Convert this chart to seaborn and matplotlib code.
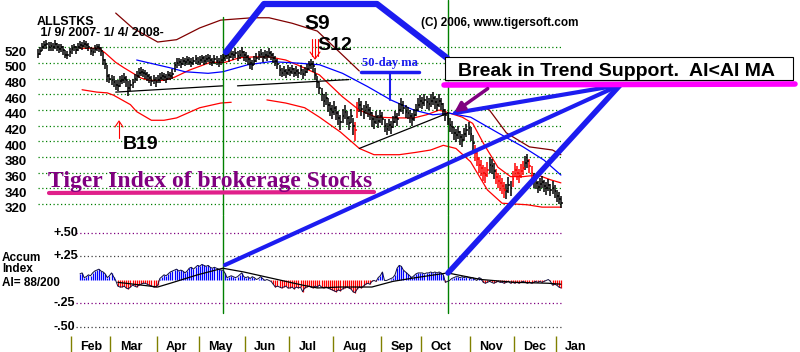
import numpy as np
import matplotlib
matplotlib.use("Agg")
import matplotlib.pyplot as plt
import seaborn as sns
from matplotlib.patches import Rectangle

# daily bars, trading-day index 0 = 1/9/2007 ... 249 = 1/4/2008
closes = [
    512, 516, 520, 523, 524, 521, 522, 520, 524, 521, 518, 520, 517, 511, 510, 514,
    518, 520, 517, 521, 523, 522, 525, 523, 521, 516, 514, 518, 520, 519, 515, 504, 499, 483, 480,
    478, 476, 472, 471, 477, 479, 481, 478, 468, 472, 474, 480, 483, 487, 489, 488, 486, 483, 481, 477, 479, 476,
    479, 481, 484, 482, 480, 485, 483, 486, 497, 500, 502, 499, 503, 501, 504, 502, 500, 503, 505, 502,
    504, 506, 503, 505, 507, 504, 502, 505, 503, 501, 504, 506, 509, 511, 508, 512, 510, 513, 509, 511, 514, 510,
    508, 505, 500, 498, 503, 507, 510, 512, 508, 511, 509, 513, 510, 507, 503, 499, 491, 488, 490, 487, 491,
    489, 492, 488, 490, 487, 491, 486, 489, 493, 497, 499, 496, 485, 476, 468, 460, 452, 455, 446, 442, 438,
    443, 436, 430, 425, 432, 437, 430, 424, 433, 420, 415, 440, 446, 442, 438, 444, 440, 436, 428, 425, 431, 426, 432,
    429, 420, 416, 421, 418, 425, 431, 428, 440, 446, 443, 438, 436, 432, 428, 434, 440, 447, 451,
    449, 453, 450, 448, 452, 455, 450, 447, 452, 448, 440, 434, 430, 421, 418, 411, 408, 412, 405, 402, 409, 414, 417,
    410, 398, 385, 378, 370, 366, 360, 357, 364, 370, 368, 362, 355, 350, 347, 343, 338, 336, 344, 340, 352,
    364, 360, 356, 362, 366, 372, 375, 368, 360, 350, 347, 342, 345, 348, 343, 340, 344, 338, 341, 336,
    330, 327, 321,
]
highs = [
    518, 521, 526, 528, 529, 527, 527, 526, 529, 526, 524, 525, 522, 517, 516, 519,
    523, 525, 522, 526, 528, 527, 530, 528, 526, 521, 519, 523, 525, 524, 520, 514, 505, 497, 486,
    485, 483, 479, 478, 483, 485, 487, 484, 477, 478, 480, 486, 490, 494, 495, 493, 491, 489, 486, 483, 485, 482,
    485, 487, 489, 488, 486, 490, 489, 492, 502, 506, 507, 505, 508, 507, 509, 508, 506, 508, 510, 508,
    509, 511, 509, 510, 512, 510, 507, 510, 509, 507, 510, 512, 515, 517, 514, 518, 516, 519, 515, 517, 520, 516,
    514, 511, 507, 504, 509, 513, 516, 518, 514, 517, 515, 519, 516, 513, 509, 505, 498, 494, 496, 493, 497,
    495, 498, 494, 496, 493, 497, 492, 495, 499, 503, 505, 503, 494, 484, 476, 468, 461, 463, 455, 450, 446,
    452, 445, 439, 434, 441, 446, 439, 433, 442, 430, 425, 450, 455, 451, 447, 452, 448, 444, 437, 433, 439, 434, 440,
    437, 428, 424, 429, 426, 433, 439, 436, 449, 455, 451, 446, 444, 440, 436, 442, 448, 455, 459,
    457, 461, 458, 456, 460, 463, 458, 455, 460, 456, 449, 442, 438, 430, 426, 419, 416, 420, 413, 410, 417, 422, 425,
    419, 408, 396, 388, 380, 376, 370, 367, 374, 380, 378, 372, 365, 360, 357, 353, 348, 346, 354, 350, 362,
    373, 369, 365, 371, 375, 381, 384, 377, 369, 359, 355, 350, 353, 356, 351, 348, 352, 346, 349, 344,
    338, 335, 330,
]
lows = [
    506, 511, 515, 518, 518, 516, 516, 515, 518, 515, 513, 514, 511, 506, 505, 508,
    512, 515, 512, 516, 518, 517, 520, 518, 516, 510, 509, 513, 515, 514, 509, 498, 492, 476, 474,
    472, 470, 466, 465, 470, 473, 475, 470, 458, 465, 468, 474, 477, 481, 483, 482, 480, 477, 475, 471, 473, 470,
    474, 475, 478, 477, 474, 479, 478, 480, 489, 494, 496, 494, 497, 496, 498, 497, 495, 497, 499, 497,
    498, 500, 497, 499, 501, 498, 496, 499, 497, 495, 498, 500, 503, 505, 502, 506, 504, 507, 503, 505, 508, 503,
    502, 498, 493, 491, 497, 501, 504, 506, 502, 505, 503, 507, 504, 500, 496, 492, 484, 482, 484, 481, 485,
    483, 486, 482, 484, 481, 485, 480, 483, 487, 491, 493, 489, 478, 468, 460, 451, 444, 446, 437, 433, 429,
    434, 427, 421, 415, 423, 428, 421, 414, 424, 408, 400, 430, 437, 433, 429, 435, 431, 427, 419, 416, 422, 417, 423,
    421, 412, 408, 413, 410, 417, 423, 420, 432, 438, 435, 430, 428, 424, 420, 426, 432, 439, 443,
    441, 445, 442, 440, 444, 447, 442, 439, 444, 440, 432, 426, 421, 412, 409, 402, 399, 403, 396, 393, 400, 405, 408,
    401, 388, 375, 368, 360, 356, 350, 347, 354, 360, 358, 352, 345, 340, 337, 333, 328, 326, 334, 330, 342,
    355, 351, 347, 353, 357, 363, 366, 359, 351, 341, 339, 334, 337, 340, 335, 332, 336, 330, 333, 328,
    323, 320, 315,
]
red_bar_spans = [(151, 152), (208, 214), (218, 222), (226, 231), (234, 235)]

# indicator lines (day, price)
ma_red_days = [20, 29, 32, 37, 41, 49, 53, 60, 65, 72, 82, 89, 96, 103, 110, 118, 125, 134, 145, 153,
               161, 171, 179, 185, 191, 195, 202, 207, 212, 219, 225, 231, 238, 244, 249]
ma_red_vals = [519, 519, 513, 501, 494, 481, 478, 478, 482, 491, 501, 501, 507, 508, 508, 504, 496, 485, 457, 440,
               431, 430, 430, 434, 440, 437, 431, 423, 398, 367, 355, 355, 357, 351, 347]
ma_blue_days = [47, 63, 70, 81, 88, 100, 111, 124, 134, 145, 157, 168, 179, 188, 196, 206, 219, 231, 241, 249]
ma_blue_vals = [504, 494, 489, 487, 489, 498, 502, 500, 498, 487, 470, 453, 440, 434, 436, 431, 411, 393, 376, 357]
band_up1_days = [37, 45, 57, 66, 77, 87, 102, 110, 121, 133, 144, 153]
band_up1_vals = [564, 545, 527, 530, 545, 555, 558, 558, 551, 541, 513, 490]
band_up2_days = [212, 215, 223, 226, 234, 245, 249]
band_up2_vals = [444, 440, 411, 406, 393, 389, 383]
band_lo1_days = [21, 28, 33, 36, 44, 47, 54, 60, 66, 77, 87, 92]
band_lo1_vals = [466, 463, 462, 459, 447, 438, 427, 427, 430, 443, 449, 450]
band_lo2_days = [109, 118, 127, 134, 144, 153, 160, 172, 180, 187, 193, 199, 206, 214, 221, 233, 240, 249]
band_lo2_vals = [453, 449, 443, 431, 412, 391, 383, 383, 386, 389, 395, 391, 374, 338, 321, 319, 316, 316]
support1_days, support1_vals = [37, 88], [463, 471]
support2_days, support2_vals = [95, 148], [471, 479]
trend_days, trend_vals = [153, 195], [391, 436]

# accumulation index, daily from day 20
ai_start = 20
ai_values = [
    0.06, 0.07, 0.02, 0.03, 0.05, 0.04, 0.07, 0.09, 0.10, 0.11, 0.09, 0.08, 0.06, 0.02, 0.04,
    0.07, 0.03, -0.01, -0.07, -0.08, -0.08, -0.07, -0.09, -0.10, -0.08, -0.06, -0.07, -0.08, -0.06, -0.05, -0.04, -0.04, -0.05, -0.06, -0.07, -0.08, -0.08,
    -0.06, 0.01, 0.03, 0.05, 0.04, 0.06, 0.08, 0.09, 0.10, 0.11, 0.09, 0.10, 0.09, 0.07, 0.09, 0.12, 0.13, 0.11, 0.13, 0.15,
    0.14, 0.16, 0.15, 0.14, 0.15, 0.13, 0.12, 0.13, 0.12, 0.11, 0.10, 0.10, 0.07, 0.02, 0.03, 0.04, 0.03, 0.02, 0.03, 0.05, 0.07, 0.03,
    0.02, 0.03, 0.01, 0.03, 0.02, 0.00, 0.01, 0.03, 0.01, -0.01, 0.00, -0.01, -0.02, -0.05, -0.08, -0.07, -0.08, -0.09, -0.08, -0.07, -0.09,
    -0.09, -0.08, -0.10, -0.08, -0.09, -0.08, -0.13, -0.09, -0.08, -0.07, -0.08, -0.09, -0.07, -0.08, -0.06, -0.08, -0.09, -0.08, -0.09, -0.10, -0.11,
    -0.12, -0.13, -0.11, -0.12, -0.10, -0.09, -0.08, -0.09, -0.10, -0.13, -0.14, -0.10, -0.08, -0.09, -0.07, -0.05, -0.04, -0.05, -0.02, -0.01, -0.02, 0.02, 0.04,
    0.08, -0.01, -0.01, 0.00, 0.01, 0.02, 0.05, 0.12, 0.15, 0.14, 0.10, 0.08, 0.06, 0.04, 0.02, 0.04, 0.06, 0.07, 0.07,
    0.07, 0.06, 0.07, 0.07, 0.08, 0.07, 0.08, 0.07, 0.08, 0.07, 0.05, -0.03, -0.02, -0.01, 0.01, 0.02, 0.03, 0.03, 0.02, 0.03, 0.02, 0.03, 0.02,
    0.01, 0.02, 0.00, -0.01, 0.02, 0.01, -0.03, -0.04, -0.03, -0.02, -0.03, -0.04, -0.03, -0.02, -0.03, -0.03, -0.04, -0.03, -0.02, -0.04, -0.03,
    -0.04, -0.03, -0.04, -0.03, -0.02, -0.03, -0.04, -0.03, -0.04, -0.03, -0.02, -0.03, -0.02, -0.03, -0.02, -0.01, 0.00, -0.02, -0.06, -0.05,
    -0.06, -0.08, -0.09,
]
ai_ma_days = [38, 57, 63, 76, 88, 98, 110, 126, 133, 144, 159, 169, 180, 195, 211, 227, 243, 249]
ai_ma_vals = [-0.03, -0.08, -0.04, 0.05, 0.12, 0.08, 0.02, -0.06, -0.09, -0.08, -0.08, -0.02, 0.02, 0.07,
              0.00, -0.03, -0.04, -0.05]

price_ticks = [520, 500, 480, 460, 440, 420, 400, 380, 360, 340, 320]
ai_ticks = [0.5, 0.25, -0.25, -0.5]
ai_tick_labels = ['+.50', '+.25', '-.25', '-.50']
month_names = ['Feb', 'Mar', 'Apr', 'May', 'Jun', 'Jul', 'Aug', 'Sep', 'Oct', 'Nov', 'Dec', 'Jan']
month_starts = [16, 35, 57, 77, 99, 120, 141, 164, 183, 206, 227, 247]
s9_day = 88
break_day = 195

# ---- layout (pixels of the 800x352 picture) ----
W, H = 800, 352
X0, PX_DAY = 38, 2.1          # day 0 sits at x=38, 2.1 px per trading day
Y520, PX_PT = 47.5, 0.7825     # price 520 at y=47.5
AI0, PX_AI = 279.5, 94.0       # AI 0 at y=279.5
BLUE = '#1c1cf0'
BOLD = dict(fontweight='bold', color='black')

sns.set_theme(style='white')
plt.rcParams['font.family'] = ['Liberation Sans', 'DejaVu Sans']

fig = plt.figure(figsize=(W / 100, H / 100), dpi=100)
fig.patch.set_facecolor('white')


def px_axes(x0, y0, x1, y1):
    ax = fig.add_axes([x0 / W, 1 - y1 / H, (x1 - x0) / W, (y1 - y0) / H])
    ax.set_axis_off()
    ax.patch.set_alpha(0)
    return ax


day_lim = (-X0 / PX_DAY, (W - X0) / PX_DAY)

# price panel
ax_p = px_axes(0, 0, W, 215)
ax_p.set_xlim(*day_lim)
ax_p.set_ylim(520 - (215 - Y520) / PX_PT, 520 + Y520 / PX_PT)
days = np.arange(len(closes))
ax_p.hlines(price_ticks, 0, len(closes), colors='#008000', linestyles=(0, (1, 2)), lw=0.9, zorder=0)
bar_colors = ['#ff0000' if any(a <= d <= b for a, b in red_bar_spans) else 'black' for d in days]
ax_p.vlines(days, lows, highs, colors=bar_colors, lw=1.1, zorder=3)
ax_p.hlines(closes, days, days + 0.9, colors=bar_colors, lw=1.1, zorder=3)

for d, v, c in [(band_up1_days, band_up1_vals, '#800000'), (band_up2_days, band_up2_vals, '#800000'),
                (band_lo1_days, band_lo1_vals, '#ff0000'), (band_lo2_days, band_lo2_vals, '#ff0000'),
                (ma_red_days, ma_red_vals, '#ff0000'), (ma_blue_days, ma_blue_vals, '#0000ff'),
                (support1_days, support1_vals, 'black'), (support2_days, support2_vals, 'black'),
                (trend_days, trend_vals, 'black')]:
    sns.lineplot(x=d, y=v, ax=ax_p, color=c, lw=0.9, sort=False, legend=False, zorder=2)
ax_p.set_axis_off()

for v in price_ticks:
    ax_p.text(-15.7, v + 1, str(v), ha='left', va='top', fontsize=9.5, **BOLD)
ax_p.axvline(s9_day, ymin=0, ymax=1 - 17 / 215, color='#008000', lw=1)
ax_p.axvline(break_day, ymin=0, ymax=1, color='#008000', lw=1)

# accumulation index panel
ax_ai = px_axes(0, 215, W, 335)
ax_ai.set_xlim(*day_lim)
ax_ai.set_ylim((AI0 - 335) / PX_AI, (AI0 - 215) / PX_AI)
ai_days = np.arange(ai_start, ai_start + len(ai_values))
ax_ai.hlines(ai_ticks, 18, len(closes), colors=['#800080', '#404040', '#800080', '#404040'],
             linestyles=(0, (1, 2)), lw=0.9, zorder=0)
ai_colors = ['#0000ff' if v > 0 else '#ff0000' for v in ai_values]
ax_ai.vlines(ai_days, 0, ai_values, colors=ai_colors, lw=0.9, zorder=2)
sns.lineplot(x=ai_days, y=ai_values, ax=ax_ai, color='#101040', lw=0.7, legend=False, zorder=3)
sns.lineplot(x=ai_ma_days, y=ai_ma_vals, ax=ax_ai, color='black', lw=0.9, legend=False, zorder=3)
ax_ai.set_axis_off()
for t, lab in zip(ai_ticks, ai_tick_labels):
    ax_ai.text(7.6, t, lab, ha='left', va='center', fontsize=9, **BOLD)
ax_ai.axvline(s9_day, ymin=(335 - 313) / 120, ymax=1, color='#008000', lw=1)
ax_ai.axvline(break_day, ymin=(335 - 313) / 120, ymax=1, color='#008000', lw=1)

# month strip
ax_m = px_axes(0, 335, W, H)
ax_m.set_xlim(*day_lim)
ax_m.set_ylim(0, 1)
ax_m.vlines(np.array(month_starts) - 0.5, 0, 0.95, colors='#808000', lw=1)
for s, name in zip(month_starts, month_names):
    ax_m.text(s + 4.0, 0.1, name, ha='left', va='baseline', fontsize=9, **BOLD)

# annotations, in picture pixels
ax_o = px_axes(0, 0, W, H)
ax_o.set_xlim(0, W)
ax_o.set_ylim(H, 0)

ax_o.text(37, 36, 'ALLSTKS\n 1/ 9/ 2007- 1/ 4/ 2008-', fontsize=9, va='baseline',
          linespacing=0.85, **BOLD)
ax_o.text(421, 26, '(C) 2006, www.tigersoft.com', fontsize=8.5, va='baseline', **BOLD)
ax_o.text(304, 29, 'S9', fontsize=15, va='baseline', **BOLD)
ax_o.text(317, 50, 'S12', fontsize=14, va='baseline', **BOLD)
ax_o.text(123, 149, 'B19', fontsize=14, va='baseline', **BOLD)
ax_o.text(2, 272, 'Accum\nIndex', fontsize=8.5, va='baseline', linespacing=0.85, **BOLD)
ax_o.text(2, 286, 'AI= 88/200', fontsize=8.5, va='baseline', **BOLD)

# signal arrows
ax_o.plot([312, 312], [39, 56], color='red', lw=0.8)
ax_o.plot([315, 315], [39, 58], color='red', lw=0.8)
ax_o.plot([318, 318], [39, 56], color='red', lw=0.8)
ax_o.plot([310, 315, 320], [52, 59, 52], color='red', lw=0.8)
ax_o.plot([119, 119], [122, 138], color='red', lw=0.8)
ax_o.plot([115, 119, 123], [127, 121, 127], color='red', lw=0.8)

# 50-day ma callout
ax_o.text(362, 66, '50-day ma', fontsize=9, va='baseline', color=BLUE, fontweight='bold',
          family=['Liberation Serif', 'DejaVu Serif'])
ax_o.plot([361, 419], [72, 72], color=BLUE, lw=2.5, solid_capstyle='round')
ax_o.plot([390, 390], [72, 100], color=BLUE, lw=1.5)

# title
ax_o.text(48, 187, 'Tiger Index of brokerage Stocks', fontsize=17, va='baseline', color='#800080',
          fontweight='bold', family=['Liberation Serif', 'DejaVu Serif'])
ax_o.plot([49, 374], [193, 192], color='#e0208a', lw=3, solid_capstyle='round')

# big blue callouts
ax_o.plot([226, 264, 377, 447], [52, 4, 4, 58], color=BLUE, lw=4.5,
          solid_capstyle='round', solid_joinstyle='round', zorder=5)
for x1, y1, lw in [(455, 113, 3), (225, 265, 3), (448, 273, 4)]:
    ax_o.plot([620, x1], [85, y1], color=BLUE, lw=lw, solid_capstyle='round', zorder=5)

# break box
ax_o.add_patch(Rectangle((445, 57), 348, 23, facecolor='white', edgecolor='black', lw=0.8, zorder=6))
ax_o.plot([446, 793], [81.5, 81.5], color='#b8b8b8', lw=1.2, zorder=6)
ax_o.text(458, 76, 'Break in Trend Support.  AI<AI MA', fontsize=14, va='baseline', zorder=7, **BOLD)
ax_o.plot([444, 795], [85, 84], color='#ff00ff', lw=4, solid_capstyle='round', zorder=6)
ax_o.annotate('', xy=(452, 114), xytext=(490, 87), zorder=8,
              arrowprops=dict(arrowstyle='-|>', color='#800080', lw=2.5, mutation_scale=14))

fig.savefig('out.png', dpi=100, facecolor='white')
